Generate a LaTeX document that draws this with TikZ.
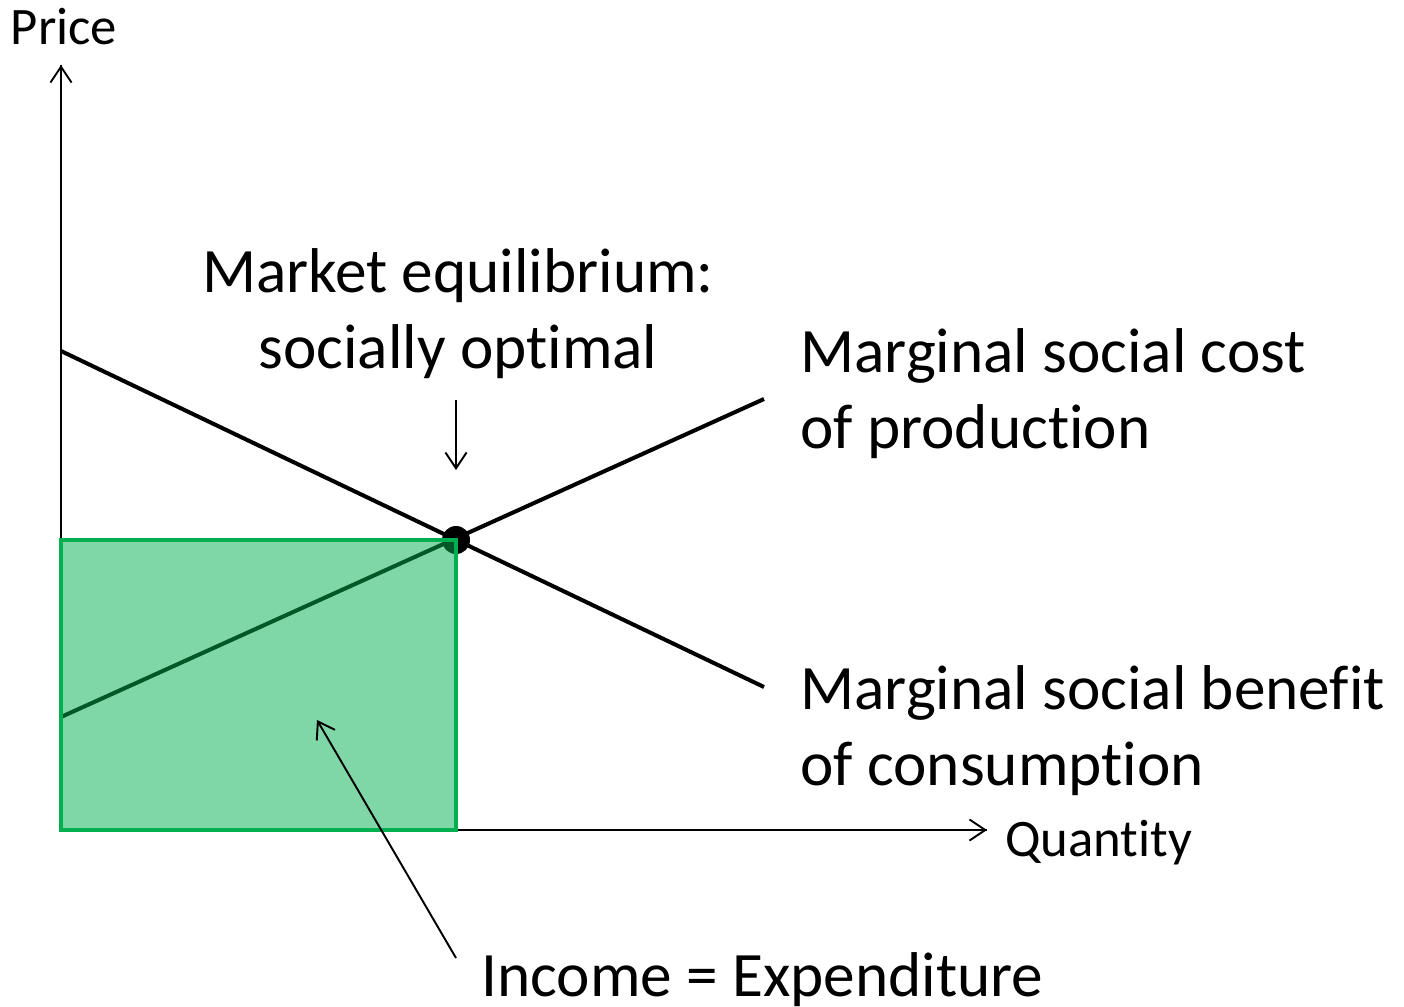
\documentclass[tikz,border=0pt]{standalone}
\usepackage{fontspec}
\setmainfont{Carlito}[Ligatures=NoCommon]
\usetikzlibrary{arrows.meta,positioning}

\definecolor{areagreen}{HTML}{00B050}

\tikzset{
	econpicture/.style = {
		x = 0.2mm,
		y = -0.2mm,
		pointer/.style = {
			draw,
			line width = 1.1pt,
			-{Straight Barb[length=9pt,width=12pt]},
		}
	},
	axislabel/.style = {
		font = \fontsize{30}{36}\selectfont,
		inner sep = 0pt
	},
	biglabel/.style = {
		font = \fontsize{36}{43.6}\selectfont,
		inner sep = 0pt
	},
	axis/.style = {
		draw,
		line width = 1.1pt
	},
	curve/.style = {
		draw,
		line width = 2.3pt
	},
	eqdot/.style = {
		circle,
		fill = black,
		inner sep = 0pt,
		minimum size = 28*0.2mm
	},
	area/.style = {
		draw = areagreen,
		fill = areagreen,
		fill opacity = 0.5,
		line width = 2.8pt
	}
}

\begin{document}
\begin{tikzpicture}[econpicture]
	\useasboundingbox (0,0) rectangle (1404,1007);

	\coordinate (O) at (61,830);
	\coordinate (Ytop) at (61,65);
	\coordinate (Xend) at (987,830);
	\coordinate (MSB1) at (61,351);
	\coordinate (MSB2) at (764,687);
	\coordinate (MSC1) at (61,717);
	\coordinate (MSC2) at (764,399);
	\coordinate (NoteTail) at (456,400);
	\coordinate (NoteTip) at (456,470);
	\coordinate (IncTail) at (456,958);
	\coordinate (IncTip) at (317,720);

	\node[axislabel, anchor=base] (price) at (64,44) {Price};
	\node[axislabel, anchor=base west] (quantity) at (1005,856) {Quantity};

	\node[biglabel, align=center, anchor=north] (market) at (458,248) {Market equilibrium:\\socially optimal};
	\node[biglabel, align=left, anchor=north west] (msc) at (800,328) {Marginal social cost\\of production};
	\node[biglabel, align=left, anchor=north west] (msb) at (800,665) {Marginal social benefit\\of consumption};
	\node[biglabel, anchor=base west] (income) at (481,996) {Income = Expenditure};

	\path[axis] (O) -- (Ytop);
	\path[axis] (O) -- (Xend);
	\path[pointer] (O) -- (Ytop);
	\path[pointer] (O) -- (Xend);

	\begin{scope}[every path/.style = curve]
		\path (MSB1) -- (MSB2);
		\path (MSC1) -- (MSC2);
	\end{scope}

	\node[eqdot] (E) at (456,540) {};

	\path[area] (O) rectangle (E.center);

	\path[pointer] (NoteTail) -- (NoteTip);
	\path[pointer] (IncTail) -- (IncTip);
\end{tikzpicture}
\end{document}
